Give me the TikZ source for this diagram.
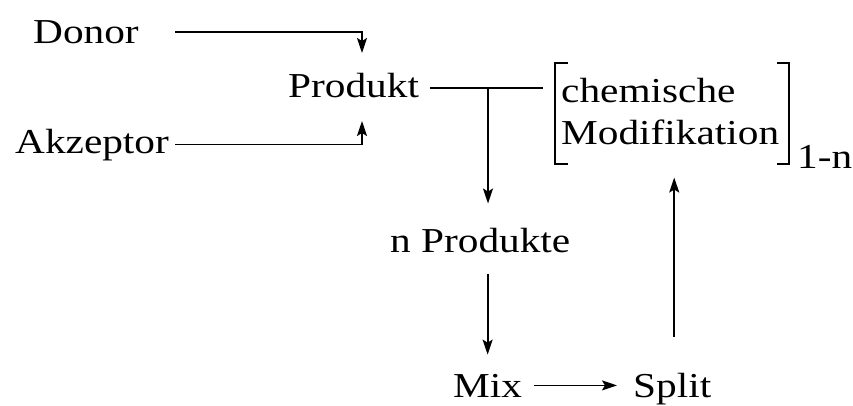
\documentclass[tikz,border=0pt]{standalone}
\usepackage{fontspec}
\setmainfont[FakeStretch=1.18]{Liberation Serif}
\newfontfamily\diagfont[FakeStretch=1.18]{Liberation Serif}
\usetikzlibrary{arrows.meta,calc}
\begin{document}
\begin{tikzpicture}[x=1bp,y=-1bp,
  lbl/.style={inner sep=0pt, anchor=base west, font=\diagfont\fontsize{35bp}{40bp}\selectfont},
  conn/.style={line width=1.8bp, -{Stealth[length=15bp,width=10bp,inset=3bp]}},
  plain/.style={line width=1.8bp}]
\useasboundingbox (0,0) rectangle (853,405);
\node[lbl] (donor) at (33,43) {Donor};
\node[lbl] (produkt) at (288,97) {Produkt};
\node[lbl] (akz) at (15,153) {Akzeptor};
\node[lbl] (chem) at (561,102) {chemische};
\node[lbl] (modif) at (561,144) {Modifikation};
\node[lbl] (onen) at (797,168) {1-n};
\node[lbl] (nprod) at (390,252) {n Produkte};
\node[lbl] (mix) at (453,397) {Mix};
\node[lbl] (split) at (633,397) {Split};
% inputs
\coordinate (dtip) at (362,53);
\coordinate (atip) at (362,121);
\draw[conn] (175,0 |- donor.east) -| (dtip);
\draw[conn] (175,0 |- akz.east) -| (atip);
% product line and branch
\coordinate (pl) at (430,88);
\coordinate (pr) at (543,88);
\coordinate (br) at (488,88);
\draw[plain] (pl) -- (pr);
\draw[conn] (br) -- ($(br |- nprod.north)+(0,-24)$);
% down to mix
\draw[conn] ($(nprod.south -| mix.north)+(0,21)$) -- ($(mix.north)+(0,-19)$);
% mix to split
\draw[conn] ($(mix.east)+(12,0)$) -- ($(mix.east -| split.west)+(-16,0)$);
% split up to modification
\draw[conn] ($(split.north)+(2,-36)$) -- ($(split.north |- modif.south)+(2,33)$);
% brackets
\draw[plain] (568,63) -- (555,63) -- (555,164) -- (568,164);
\draw[plain] (777,63) -- (789,63) -- (789,164) -- (777,164);
\end{tikzpicture}
\end{document}
